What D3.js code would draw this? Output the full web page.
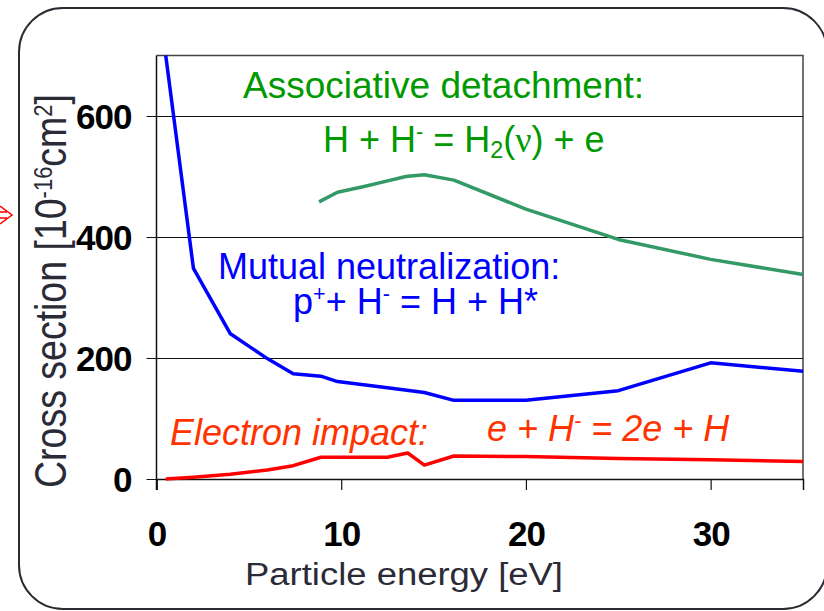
<!DOCTYPE html>
<html>
<head>
<meta charset="utf-8">
<script src="https://cdn.jsdelivr.net/npm/d3@7"></script>
<style>
  body { margin: 0; background: #fff; }
  svg { display: block; font-family: "Liberation Sans", Arial, sans-serif; }
</style>
</head>
<body>
<div id="chart"></div>
<script>
// Mutual neutralization (blue)
const mnEnergy = [0.5, 2, 4, 6, 7.4, 8.9, 9.8, 12.5, 14.5, 16.1, 20, 25, 30, 35];
const mnCross  = [700, 348, 240, 199, 174, 170, 161, 151, 143, 130, 130, 146, 192, 178];

// Associative detachment (green)
const adEnergy = [8.8, 9.8, 11.3, 12.4, 13.5, 14.5, 16.1, 20, 25, 30, 35];
const adCross  = [458, 474, 484, 492, 500, 503, 494, 446, 396, 363, 338];

// Electron impact (red)
const eiEnergy = [0.5, 2, 4, 6, 7.4, 8.9, 12.5, 13.6, 14.5, 16.1, 20, 25, 30, 35];
const eiCross  = [0, 3, 8, 15, 22, 36, 36, 43, 23, 38, 37, 34, 32, 29];

const xTicks = [0, 10, 20, 30];
const yTicks = [0, 200, 400, 600];

const width = 824, height = 611;
const margin = { top: 55.5, right: 21, bottom: 132, left: 156.5 };

const svg = d3.select("#chart").append("svg")
    .attr("width", width)
    .attr("height", height);

// rounded frame around the whole slide chart
svg.append("rect")
    .attr("x", 19).attr("y", 8)
    .attr("width", 808).attr("height", 601)
    .attr("rx", 44).attr("ry", 44)
    .attr("fill", "none")
    .attr("stroke", "#2a2a33")
    .attr("stroke-width", 2);

// red arrow poking in from the left
svg.append("path")
    .attr("d", "M0,206 L12,215 L0,224 M0,212 L7,212 M0,218 L7,218")
    .attr("fill", "none")
    .attr("stroke", "#ff0000")
    .attr("stroke-width", 1.5);

const x = d3.scaleLinear().domain([0, 35]).range([margin.left, width - margin.right]);
const y = d3.scaleLinear().domain([0, 700]).range([height - margin.bottom, margin.top]);

// plot border (top + right)
svg.append("path")
    .attr("d", `M${x(0)},${y(700)} H${x(35)} V${y(0)}`)
    .attr("fill", "none")
    .attr("stroke", "#444")
    .attr("stroke-width", 1.5);

// gridlines + y ticks
svg.append("g")
    .attr("transform", `translate(${x(0)},0)`)
    .call(d3.axisLeft(y).tickValues(yTicks).tickSize(10).tickSizeInner(-(x(35) - x(0))).tickFormat(""))
    .call(g => g.select(".domain").remove())
    .call(g => g.selectAll(".tick line").attr("x1", -10).attr("stroke", "#111").attr("stroke-width", 1.2));

const tickFont = g => g.selectAll("text")
    .attr("font-size", "35px")
    .attr("font-weight", "bold")
    .attr("letter-spacing", "-1px")
    .attr("fill", "#000");

svg.append("g")
    .attr("transform", `translate(${x(0)},0)`)
    .call(d3.axisLeft(y).tickValues(yTicks).tickSize(0).tickPadding(25))
    .call(g => g.select(".domain").remove())
    .call(tickFont)
    .call(g => g.selectAll("text").attr("dy", "0.36em"));

// x axis
svg.append("g")
    .attr("transform", `translate(0,${y(0)})`)
    .call(d3.axisBottom(x).tickValues(xTicks).tickSize(11).tickPadding(0))
    .call(g => g.select(".domain").attr("stroke", "#111").attr("stroke-width", 1.5))
    .call(g => g.selectAll(".tick line").attr("stroke", "#111").attr("stroke-width", 1.2))
    .call(tickFont)
    .call(g => g.selectAll("text").attr("y", 67).attr("dy", 0));

// left axis line, reaching a bit below zero
svg.append("line")
    .attr("x1", x(0)).attr("x2", x(0))
    .attr("y1", y(700)).attr("y2", y(0) + 11)
    .attr("stroke", "#111")
    .attr("stroke-width", 1.5);

// series
const line = d3.line().x(d => x(d[0])).y(d => y(d[1]));
const series = [
    { e: adEnergy, c: adCross, color: "#339966" },
    { e: mnEnergy, c: mnCross, color: "#0000ff" },
    { e: eiEnergy, c: eiCross, color: "#ff0000" }
];
series.forEach(s => {
    svg.append("path")
        .datum(d3.zip(s.e, s.c))
        .attr("d", line)
        .attr("fill", "none")
        .attr("stroke", s.color)
        .attr("stroke-width", 3.5)
        .attr("stroke-linejoin", "round");
});

// annotations: each is a list of [text, shift] pieces
function label(xp, yp, parts, color, size, italic) {
    const t = svg.append("text")
        .attr("x", xp).attr("y", yp)
        .attr("font-size", size + "px")
        .attr("fill", color)
        .attr("font-style", italic ? "italic" : "normal");
    parts.forEach(p => {
        const sp = t.append("tspan").text(p[0]);
        if (p[1] === "sup") sp.attr("font-size", (size * 0.6) + "px").attr("baseline-shift", "60%");
        if (p[1] === "sub") sp.attr("font-size", (size * 0.65) + "px").attr("baseline-shift", "-25%");
        if (p[1] === "nu") sp.attr("font-family", "Liberation Serif, serif");
    });
    return t;
}

label(243, 98, [["Associative detachment:"]], "#009900", 37);
label(323, 152, [["H + H"], ["-", "sup"], [" = H"], ["2", "sub"], ["("], ["\u03bd", "nu"], [") + e"]], "#009900", 36);

label(218, 279, [["Mutual neutralization:"]], "#0000ff", 36);
label(293, 314, [["p"], ["+", "sup"], ["+ H"], ["-", "sup"], [" = H + H*"]], "#0000ff", 36);

label(170, 445, [["Electron impact:"]], "#ff3300", 36, true);
label(487, 441, [["e + H"], ["-", "sup"], [" = 2e + H"]], "#ff3300", 36, true);

// axis titles
svg.append("text")
    .attr("x", 404).attr("y", 585)
    .attr("text-anchor", "middle")
    .attr("font-size", "31px")
    .attr("textLength", 318)
    .attr("lengthAdjust", "spacingAndGlyphs")
    .attr("fill", "#2b2b38")
    .text("Particle energy [eV]");

const yTitle = svg.append("text")
    .attr("transform", "translate(66,291) rotate(-90) scale(1,1.2)")
    .attr("text-anchor", "middle")
    .attr("font-size", "37.5px")
    .attr("fill", "#2b2b38");
yTitle.append("tspan").text("Cross section [10");
yTitle.append("tspan").text("-16").attr("font-size", "22px").attr("baseline-shift", "55%");
yTitle.append("tspan").text("cm");
yTitle.append("tspan").text("2").attr("font-size", "22px").attr("baseline-shift", "55%");
yTitle.append("tspan").text("]");
</script>
</body>
</html>
